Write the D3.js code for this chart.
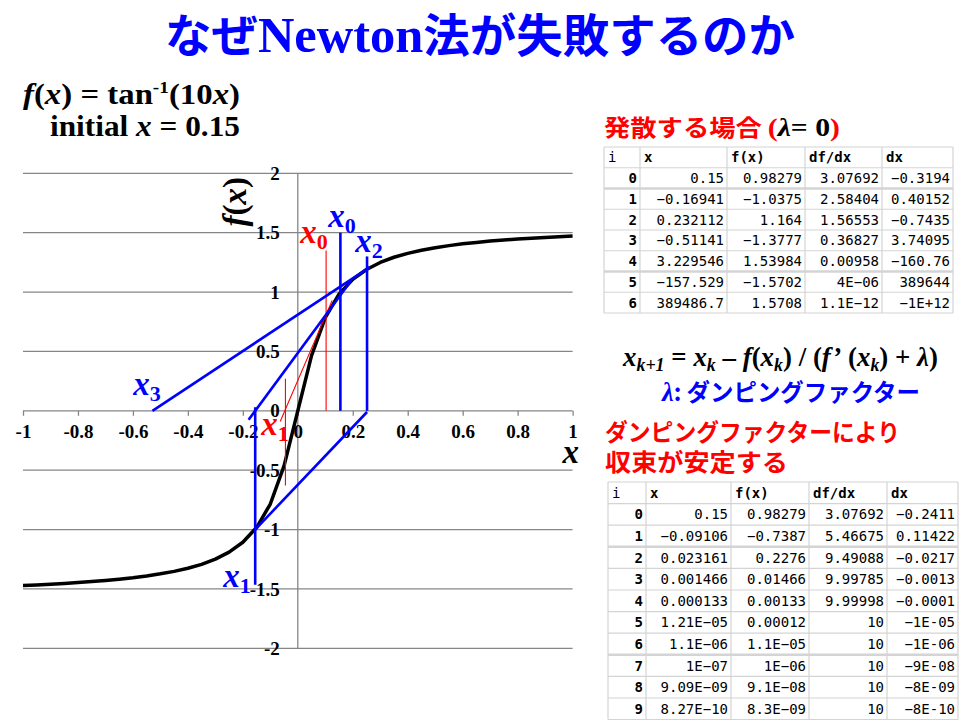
<!DOCTYPE html>
<html lang="ja">
<head>
<meta charset="UTF-8">
<title>なぜNewton法が失敗するのか</title>
<script src="https://d3js.org/d3.v7.min.js"></script>
<style>
  body { margin: 0; background: #fff; }
  svg { display: block; }
  .serif { font-family: "Liberation Serif", "Times New Roman", serif; font-weight: bold; }
  .jp { font-family: "Noto Sans CJK JP", sans-serif; font-weight: bold; }
  .cell { font-family: "DejaVu Sans Mono", monospace; font-size: 14px; fill: #000; }
  .grid line, .grid path { stroke: #868686; stroke-width: 1.3; }
</style>
</head>
<body>
<svg width="960" height="720"></svg>
<script>
// curve f(x) = tan^-1(10x)
const curveX = [-1, -0.95, -0.9, -0.85, -0.8, -0.75, -0.7, -0.65, -0.6, -0.55, -0.5, -0.45, -0.4, -0.35, -0.3, -0.25, -0.2, -0.15, -0.1, -0.05,
  0, 0.05, 0.1, 0.15, 0.2, 0.25, 0.3, 0.35, 0.4, 0.45, 0.5, 0.55, 0.6, 0.65, 0.7, 0.75, 0.8, 0.85, 0.9, 0.95, 1];
const curveY = [-1.471, -1.466, -1.460, -1.454, -1.446, -1.438, -1.429, -1.418, -1.406, -1.391, -1.373, -1.352, -1.326, -1.293, -1.249, -1.190, -1.107, -0.983, -0.785, -0.464,
  0, 0.464, 0.785, 0.983, 1.107, 1.190, 1.249, 1.293, 1.326, 1.352, 1.373, 1.391, 1.406, 1.418, 1.429, 1.438, 1.446, 1.454, 1.460, 1.466, 1.471];

const xTicks = [-1, -0.8, -0.6, -0.4, -0.2, 0, 0.2, 0.4, 0.6, 0.8, 1];
const xTickLabels = ["-1", "-0.8", "-0.6", "-0.4", "-0.2", "0", "0.2", "0.4", "0.6", "0.8", "1"];
const yTicks = [-2, -1.5, -1, -0.5, 0, 0.5, 1, 1.5, 2];
const yTickLabels = ["-2", "-1.5", "-1", "-0.5", "0", "0.5", "1", "1.5", "2"];

// Newton steps drawn on the plot [x1, y1, x2, y2]
const blueSegs = [
  [0.155, 0, 0.155, 1.50],
  [-0.179, -0.076, 0.195, 1.10],
  [-0.155, 0.03, -0.155, -1.465],
  [-0.155, -1.0, 0.252, -0.01],
  [0.252, 0, 0.252, 1.30],
  [-0.529, 0, 0.262, 1.21]
];
const redSegs = [
  [0.103, 0, 0.103, 1.35],
  [-0.064, -0.09, 0.125, 0.93],
  [-0.045, 0.27, -0.045, -0.63]
];
const blueLabels = [["0", 0.111, 1.55], ["2", 0.209, 1.339], ["3", -0.599, 0.135], ["1", -0.271, -1.482]];
const redLabels = [["0", 0.009, 1.415], ["1", -0.133, -0.202]];

// tables
const headers = ["i", "x", "f(x)", "df/dx", "dx"];
const divI = ["0", "1", "2", "3", "4", "5", "6"];
const divX = ["0.15", "-0.16941", "0.232112", "-0.51141", "3.229546", "-157.529", "389486.7"];
const divF = ["0.98279", "-1.0375", "1.164", "-1.3777", "1.53984", "-1.5702", "1.5708"];
const divDf = ["3.07692", "2.58404", "1.56553", "0.36827", "0.00958", "4E-06", "1.1E-12"];
const divDx = ["-0.3194", "0.40152", "-0.7435", "3.74095", "-160.76", "389644", "-1E+12"];

const dampI = ["0", "1", "2", "3", "4", "5", "6", "7", "8", "9"];
const dampX = ["0.15", "-0.09106", "0.023161", "0.001466", "0.000133", "1.21E-05", "1.1E-06", "1E-07", "9.09E-09", "8.27E-10"];
const dampF = ["0.98279", "-0.7387", "0.2276", "0.01466", "0.00133", "0.00012", "1.1E-05", "1E-06", "9.1E-08", "8.3E-09"];
const dampDf = ["3.07692", "5.46675", "9.49088", "9.99785", "9.99998", "10", "10", "10", "10", "10"];
const dampDx = ["-0.2411", "0.11422", "-0.0217", "-0.0013", "-0.0001", "-1E-05", "-1E-06", "-9E-08", "-8E-09", "-8E-10"];

const svg = d3.select('svg');
const BLUE = '#0000ff', RED = '#ff0000';

// title
const title = svg.append('text').attr('x', 480).attr('y', 52).attr('text-anchor', 'middle')
  .attr('fill', BLUE).attr('font-size', 46).attr('textLength', 630).attr('lengthAdjust', 'spacingAndGlyphs');
title.append('tspan').attr('class', 'jp').text('なぜ');
title.append('tspan').attr('class', 'serif').attr('font-size', 50).text('Newton');
title.append('tspan').attr('class', 'jp').text('法が失敗するのか');

// f(x) = tan^-1(10x)
const f1 = svg.append('text').attr('class', 'serif').attr('x', 23).attr('y', 104).attr('font-size', 29)
  .attr('textLength', 217).attr('lengthAdjust', 'spacingAndGlyphs');
f1.append('tspan').attr('font-style', 'italic').text('f');
f1.append('tspan').text('(');
f1.append('tspan').attr('font-style', 'italic').text('x');
f1.append('tspan').text(') = tan');
f1.append('tspan').attr('font-size', 17).attr('dy', -11).text('-1');
f1.append('tspan').attr('dy', 11).text('(10');
f1.append('tspan').attr('font-style', 'italic').text('x');
f1.append('tspan').text(')');

const f2 = svg.append('text').attr('class', 'serif').attr('x', 50).attr('y', 136).attr('font-size', 29)
  .attr('textLength', 190).attr('lengthAdjust', 'spacingAndGlyphs');
f2.append('tspan').text('initial ');
f2.append('tspan').attr('font-style', 'italic').text('x');
f2.append('tspan').text(' = 0.15');

// chart
const x = d3.scaleLinear().domain([-1, 1]).range([23, 572.6]);
const y = d3.scaleLinear().domain([-2, 2]).range([648.3, 173.3]);

const grid = svg.append('g').attr('class', 'grid');
grid.selectAll('line.h').data(yTicks).join('line').attr('class', 'h')
  .attr('x1', x(-1)).attr('x2', x(1)).attr('y1', d => y(d)).attr('y2', d => y(d));
grid.append('line').attr('x1', x(0)).attr('x2', x(0)).attr('y1', y(2)).attr('y2', y(-2));

const xAxis = svg.append('g').attr('class', 'grid')
  .attr('transform', `translate(0,${y(0)})`)
  .call(d3.axisBottom(x).tickValues(xTicks).tickSize(5).tickPadding(9)
    .tickFormat((d, i) => xTickLabels[i]));
xAxis.select('.domain').remove();
xAxis.selectAll('text').attr('class', 'serif').attr('font-size', 19).attr('fill', '#000').attr('stroke', 'none');

const yAxis = svg.append('g').attr('class', 'grid')
  .attr('transform', `translate(${x(0)},0)`)
  .call(d3.axisLeft(y).tickValues(yTicks).tickSize(0).tickPadding(18)
    .tickFormat((d, i) => yTickLabels[i]));
yAxis.select('.domain').remove();
yAxis.selectAll('text').attr('class', 'serif').attr('font-size', 19).attr('fill', '#000').attr('stroke', 'none');

// axis titles
const yt = svg.append('text').attr('class', 'serif').attr('font-size', 33).attr('text-anchor', 'middle')
  .attr('transform', `translate(${x(-0.19)},${y(1.76)}) rotate(-90)`);
yt.append('tspan').attr('font-style', 'italic').text('f');
yt.append('tspan').text('(');
yt.append('tspan').attr('font-style', 'italic').text('x');
yt.append('tspan').text(')');
svg.append('text').attr('class', 'serif').attr('font-size', 33).attr('font-style', 'italic')
  .attr('x', x(1) - 10).attr('y', y(0) + 52).text('x');

// curve
const line = d3.line().x(d => x(d[0])).y(d => y(d[1]));
svg.append('path').datum(curveX.map((v, i) => [v, curveY[i]]))
  .attr('d', line).attr('fill', 'none').attr('stroke', '#000').attr('stroke-width', 3.5)
  .attr('stroke-linejoin', 'round');

// red (thin) and blue Newton steps
svg.append('g').selectAll('line').data(redSegs).join('line')
  .attr('x1', d => x(d[0])).attr('y1', d => y(d[1])).attr('x2', d => x(d[2])).attr('y2', d => y(d[3]))
  .attr('stroke', RED).attr('stroke-width', 1.1);
svg.append('g').selectAll('line').data(blueSegs).join('line')
  .attr('x1', d => x(d[0])).attr('y1', d => y(d[1])).attr('x2', d => x(d[2])).attr('y2', d => y(d[3]))
  .attr('stroke', BLUE).attr('stroke-width', 2.6);

function subLabel(d, color) {
  const t = svg.append('text').attr('class', 'serif').attr('fill', color)
    .attr('x', x(d[1])).attr('y', y(d[2])).attr('font-size', 33);
  t.append('tspan').attr('font-style', 'italic').text('x');
  t.append('tspan').attr('font-size', 22).attr('dy', 6).text(d[0]);
}
blueLabels.forEach(d => subLabel(d, BLUE));
redLabels.forEach(d => subLabel(d, RED));

// headings
const h1 = svg.append('text').attr('x', 604).attr('y', 136).attr('font-size', 23)
  .attr('textLength', 236).attr('lengthAdjust', 'spacingAndGlyphs');
h1.append('tspan').attr('class', 'jp').attr('fill', RED).text('発散する場合 ');
h1.append('tspan').attr('class', 'serif').attr('fill', RED).attr('font-size', 26).text('(');
h1.append('tspan').attr('class', 'serif').attr('font-style', 'italic').attr('font-size', 26).text('λ');
h1.append('tspan').attr('class', 'serif').attr('font-size', 26).text('= 0');
h1.append('tspan').attr('class', 'serif').attr('fill', RED).attr('font-size', 26).text(')');

const nf = svg.append('text').attr('class', 'serif').attr('x', 623).attr('y', 366).attr('font-size', 27)
  .attr('textLength', 315).attr('lengthAdjust', 'spacingAndGlyphs');
[['x', 1, 0], ['k+1', 2, 5], [' = ', 0, -5], ['x', 1, 0], ['k', 2, 5], [' – ', 0, -5], ['f', 1, 0], ['(', 0, 0], ['x', 1, 0],
 ['k', 2, 5], [') / (', 0, -5], ['f’', 1, 0], [' (', 0, 0], ['x', 1, 0], ['k', 2, 5], [') + ', 0, -5], ['λ', 1, 0], [')', 0, 0]]
  .forEach(p => {
    const s = nf.append('tspan').attr('dy', p[2]).text(p[0]);
    if (p[1] >= 1) s.attr('font-style', 'italic');
    if (p[1] === 2) s.attr('font-size', 18);
  });

const lam = svg.append('text').attr('x', 662).attr('y', 401).attr('font-size', 24).attr('fill', BLUE)
  .attr('textLength', 258).attr('lengthAdjust', 'spacingAndGlyphs');
lam.append('tspan').attr('class', 'serif').attr('font-style', 'italic').attr('font-size', 27).text('λ');
lam.append('tspan').attr('class', 'jp').text(': ダンピングファクター');

svg.append('text').attr('class', 'jp').attr('x', 605).attr('y', 441).attr('font-size', 24).attr('fill', RED)
  .attr('textLength', 295).attr('lengthAdjust', 'spacingAndGlyphs').text('ダンピングファクターにより');
svg.append('text').attr('class', 'jp').attr('x', 605).attr('y', 471).attr('font-size', 24).attr('fill', RED)
  .attr('textLength', 183).attr('lengthAdjust', 'spacingAndGlyphs').text('収束が安定する');

// tables
function drawTable(cols, edges, top, rowH, thickAfter) {
  const g = svg.append('g');
  const nRows = cols[0].length + 1;
  const ry = d3.scaleLinear().domain([0, nRows]).range([top, top + rowH * nRows]);
  // borders
  g.selectAll('line.r').data(d3.range(nRows + 1)).join('line')
    .attr('x1', edges[0]).attr('x2', edges[edges.length - 1])
    .attr('y1', d => ry(d)).attr('y2', d => ry(d))
    .attr('stroke', '#d4d4d4').attr('stroke-width', d => thickAfter.includes(d) ? 2.5 : 1.2);
  g.selectAll('line.c').data(edges).join('line')
    .attr('x1', d => d).attr('x2', d => d).attr('y1', ry(0)).attr('y2', ry(nRows))
    .attr('stroke', '#d4d4d4').attr('stroke-width', 1.2);
  // header
  g.selectAll('text.hd').data(headers).join('text').attr('class', 'cell')
    .attr('x', (d, i) => edges[i] + 4).attr('y', ry(0.5) + 5)
    .attr('font-weight', (d, i) => i === 0 ? 'normal' : 'bold').text(d => d);
  // body
  cols.forEach((col, ci) => {
    g.selectAll(null).data(col).join('text').attr('class', 'cell')
      .attr('x', edges[ci + 1] - 3).attr('y', (d, ri) => ry(ri + 1.5) + 5)
      .attr('text-anchor', 'end').attr('font-weight', ci === 0 ? 'bold' : 'normal')
      .text(d => d.replace('-', '−'));
  });
}
drawTable([divI, divX, divF, divDf, divDx], [604, 640, 727, 805, 882, 953], 147, 20.75, [2, 6]);
drawTable([dampI, dampX, dampF, dampDf, dampDx], [608, 646, 731, 809, 887, 958], 482, 21.6, [3, 8]);
</script>
</body>
</html>
